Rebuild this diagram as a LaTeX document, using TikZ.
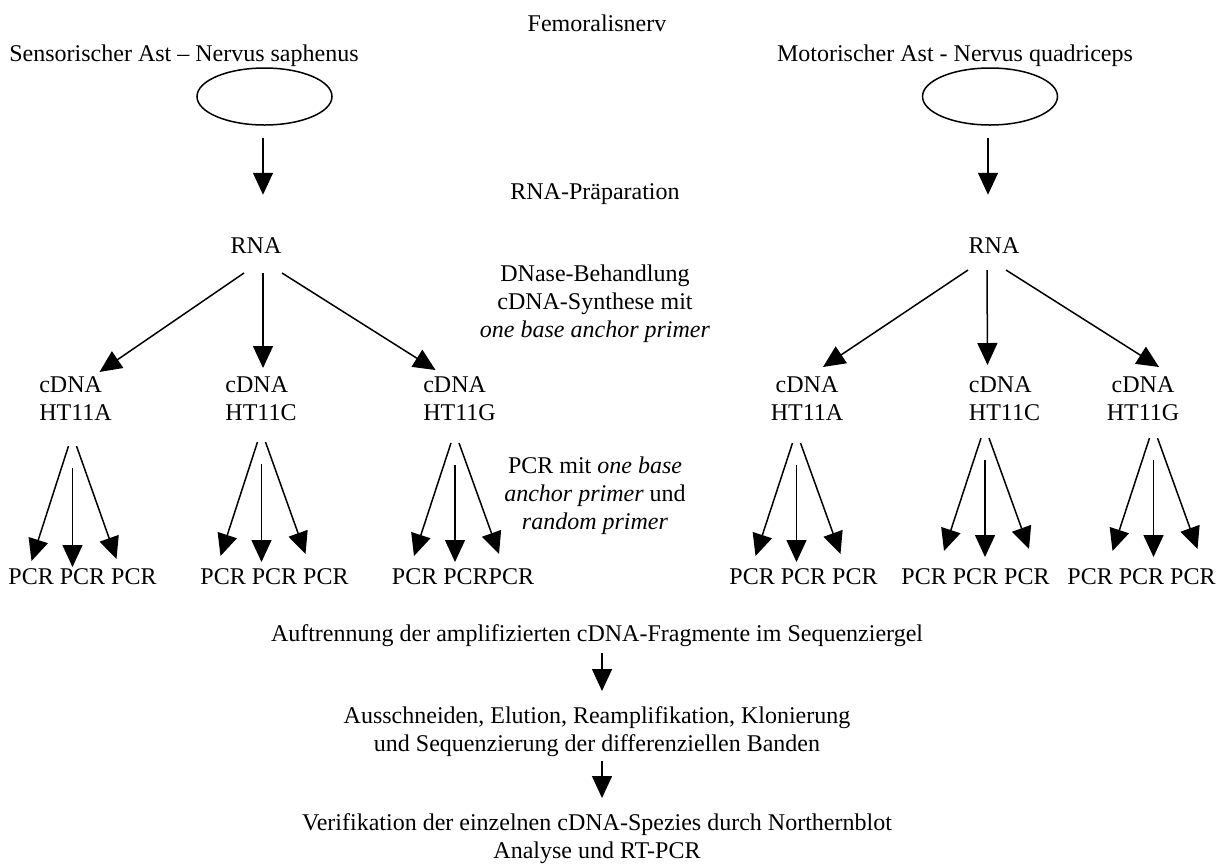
\documentclass[tikz,border=0pt]{standalone}
\usepackage{fontspec}
\setmainfont{Liberation Serif}
\usetikzlibrary{arrows.meta, shapes.geometric}

\begin{document}
\begin{tikzpicture}[
        x=0.5pt, y=-0.5pt,
        font=\fontsize{12pt}{13.8pt}\selectfont,
        >={Triangle[length=11pt, width=10pt]},
        txt/.style={inner sep=0pt, anchor=base, align=center},
        cdna/.style={txt, align=left},
        nerve/.style={draw, ellipse, line width=0.75pt, minimum width=67.5pt, minimum height=28.5pt, inner sep=0pt},
        arrow/.style={->, line width=0.75pt}
    ]
        \useasboundingbox (0,0) rectangle (1224,863);

        % multi-line nodes sit on the baseline of their last line
        \node[txt] (femoral) at (597,31) {Femoralisnerv};
        \node[txt] (sensLabel) at (184,61) {Sensorischer Ast – Nervus saphenus};
        \node[txt] (motLabel) at (955,61) {Motorischer Ast - Nervus quadriceps};

        \node[nerve] (sensNerve) at (264.5,96.5) {};
        \node[nerve] (motNerve) at (990,96.5) {};

        \node[txt] (prep) at (595,199) {RNA-Präparation};
        \node[txt] (rnaL) at (256,253) {RNA};
        \node[txt] (rnaR) at (994,253) {RNA};

        \node[txt] (synth) at (595,337) {
            DNase-Behandlung\\
            cDNA-Synthese mit\\
            \textit{one base anchor primer}
        };

        \node[cdna] (cAL) at (75.5,420) {cDNA\\HT11A};
        \node[cdna] (cCL) at (261,420) {cDNA\\HT11C};
        \node[cdna] (cGL) at (459.5,420) {cDNA\\HT11G};
        \node[txt] (cAR) at (807,420) {cDNA\\HT11A};
        \node[cdna] (cCR) at (1004.5,420) {cDNA\\HT11C};
        \node[txt] (cGR) at (1143,420) {cDNA\\HT11G};

        \node[txt] (pcrStep) at (595,529) {
            PCR mit \textit{one base}\\
            \textit{anchor primer} und\\
            \textit{random primer}
        };

        \node[txt] (pAL) at (82.5,584) {PCR PCR PCR};
        \node[txt] (pCL) at (274.5,584) {PCR PCR PCR};
        \node[txt] (pGL) at (463,584) {PCR PCRPCR};
        \node[txt] (pAR) at (803.5,584) {PCR PCR PCR};
        \node[txt] (pCR) at (975.5,584) {PCR PCR PCR};
        \node[txt] (pGR) at (1141.5,584) {PCR PCR PCR};

        \node[txt] (gel) at (597,641) {Auftrennung der amplifizierten cDNA-Fragmente im Sequenziergel};
        \node[txt] (clone) at (597,751) {
            Ausschneiden, Elution, Reamplifikation, Klonierung\\
            und Sequenzierung der differenziellen Banden
        };
        \node[txt] (verify) at (597,858) {
            Verifikation der einzelnen cDNA-Spezies durch Northernblot\\
            Analyse und RT-PCR
        };

        % nerve -> RNA
        \draw[arrow] ([shift={(-1.5,12)}]sensNerve.south) -- ([shift={(-1.5,69)}]sensNerve.south);
        \draw[arrow] ([shift={(-2,12)}]motNerve.south) -- ([shift={(-2,69)}]motNerve.south);

        % RNA -> cDNA
        \draw[arrow] ([shift={(-12,20)}]rnaL.base) -- ([shift={(24,-48)}]cAL.base);
        \draw[arrow] ([shift={(7,20)}]rnaL.base) -- ([shift={(2,-52)}]cCL.base);
        \draw[arrow] ([shift={(26,20)}]rnaL.base) -- ([shift={(-24,-50)}]cGL.base);
        \draw[arrow] ([shift={(-26,17)}]rnaR.base) -- ([shift={(16,-53)}]cAR.base);
        \draw[arrow] ([shift={(-7,17)}]rnaR.base) -- ([shift={(-17,-55)}]cCR.base);
        \draw[arrow] ([shift={(12,17)}]rnaR.base) -- ([shift={(16,-53)}]cGR.base);

        % cDNA -> PCR
        \foreach \fan/\x/\ys/\yt in {LA/72.5/446/567, LC/261.5/442/562, LG/455/443/562,
                                     RA/796.5/443/562, RC/985/438/557, RG/1153.5/438/557}{
            \coordinate (fan\fan) at (\x,\ys);
            \coordinate (tip\fan) at (\x,\yt);
            \draw[arrow] ([shift={(-4,0)}]fan\fan) -- ([shift={(-41,-6)}]tip\fan);
            \draw[arrow] ([shift={(0,22)}]fan\fan) -- (tip\fan);
            \draw[arrow] ([shift={(4,0)}]fan\fan) -- ([shift={(44,-8)}]tip\fan);
        }

        % lower chain
        \draw[arrow] ([shift={(5,12)}]gel.base) -- ([shift={(5,-60)}]clone.base);
        \draw[arrow] ([shift={(5,10)}]clone.base) -- ([shift={(5,-60)}]verify.base);
    \end{tikzpicture}
\end{document}
